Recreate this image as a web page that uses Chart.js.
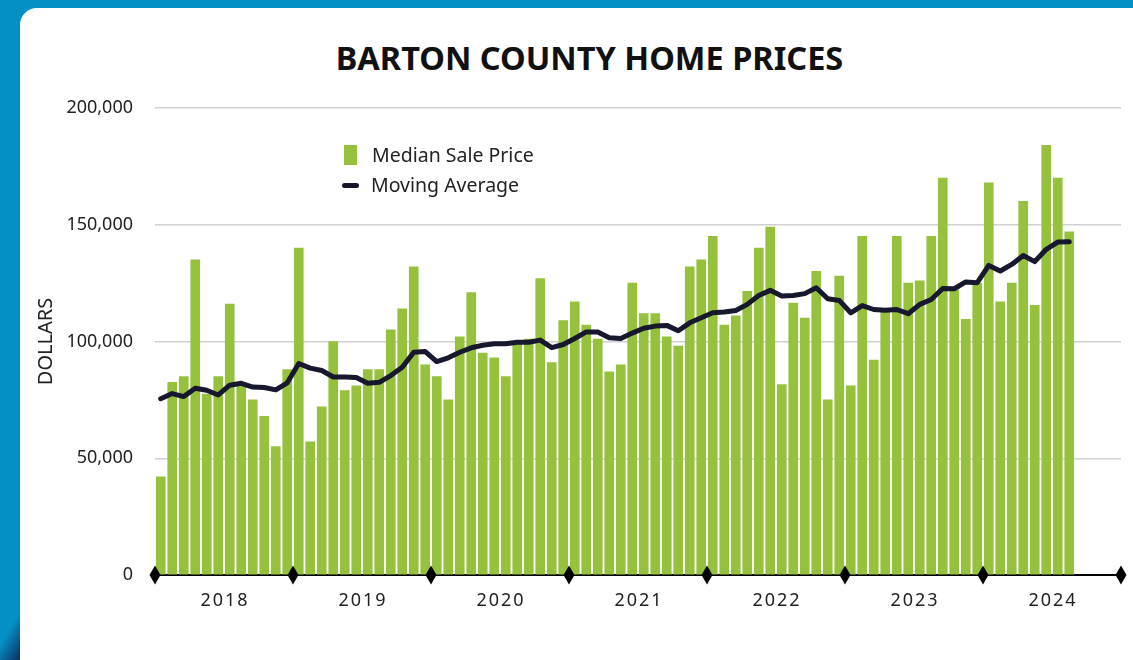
<!DOCTYPE html>
<html>
<head>
<meta charset="utf-8">
<script src="https://cdn.jsdelivr.net/npm/chart.js@4.4.1/dist/chart.umd.min.js"></script>
<style>
  body { margin: 0; width: 1133px; height: 660px; overflow: hidden; background: #0590c5; font-family: "Noto Sans", sans-serif; }
  .swoosh { position: absolute; left: 0; top: 590px; width: 30px; height: 70px; background: linear-gradient(120deg, rgba(5,144,197,0) 45%, #0d3b6e 80%, #0a1f45 100%); }
  .card { position: absolute; left: 20px; top: 8px; width: 1150px; height: 680px; background: #fff; border-radius: 17px; }
  #title { position: absolute; left: 0; width: 1179px; top: 35px; margin: 0; text-align: center; font-size: 32.5px; font-weight: 700; color: #111; }
  #legend { position: absolute; left: 342px; top: 140px; font-size: 19.5px; color: #222; line-height: 30px; }
  #legend .row { display: flex; align-items: center; }
  #legend .box { width: 13px; height: 20px; background: #95c13d; margin: 0 15px 0 2px; }
  #legend .ln { width: 17px; height: 5px; border-radius: 3px; background: #17172e; margin: 0 12px 0 0; }
  canvas { position: absolute; left: 0; top: 0; }
</style>
</head>
<body>
<div class="swoosh"></div>
<div class="card"></div>
<h1 id="title">BARTON COUNTY HOME PRICES</h1>
<canvas id="myChart" width="1133" height="660"></canvas>
<div id="legend">
  <div class="row"><span class="box"></span>Median Sale Price</div>
  <div class="row"><span class="ln"></span>Moving Average</div>
</div>
<script>
const years = ["2018", "2019", "2020", "2021", "2022", "2023", "2024"];

// monthly median sale price, Jan 2018 - Aug 2024
const medianPrice = [
  42000, 82500, 85000, 135000, 77500, 85000, 116000, 81500, 75000, 68000, 55000, 88000,
  140000, 57000, 72000, 100000, 79000, 81000, 88000, 88000, 105000, 114000, 132000, 90000,
  85000, 75000, 102000, 121000, 95000, 93000, 85000, 100000, 101000, 127000, 91000, 109000,
  117000, 107000, 101000, 87000, 90000, 125000, 112000, 112000, 102000, 98000, 132000, 135000,
  145000, 107000, 111000, 121500, 140000, 149000, 81500, 116500, 110000, 130000, 75000, 128000,
  81000, 145000, 92000, 113000, 145000, 125000, 126000, 145000, 170000, 122000, 109500, 125000,
  168000, 117000, 125000, 160000, 115500, 184000, 170000, 147000
];

const movingAverage = [
  75500, 77700, 76400, 80000, 79100, 77100, 81300, 82100, 80500, 80300, 79300, 82300,
  90600, 88600, 87600, 84800, 84800, 84600, 82100, 82500, 85400, 89000, 95400, 95700,
  91400, 93000, 95400, 97300, 98400, 99000, 99000, 99700, 99700, 100600, 97400, 98700,
  101300, 104100, 104100, 101600, 101300, 103600, 105700, 106600, 106900, 104600, 108000, 110200,
  112300, 112600, 113300, 115900, 119700, 121900, 119500, 119700, 120500, 123000, 118300, 117600,
  112300, 115400, 113700, 113400, 113700, 111900, 115900, 118000, 122700, 122600, 125500, 125200,
  132600, 130200, 133000, 136800, 134200, 139500, 142600, 142700
];

const yTicks = [0, 50000, 100000, 150000, 200000];

const months = years.length * 12;
const toPoints = arr => arr.map((v, i) => ({ x: i + 0.5, y: v }));

// diamonds on the x axis at each year boundary + spaced-out year labels
const yearAxis = {
  id: "yearAxis",
  afterDraw(chart) {
    const { ctx, chartArea, scales } = chart;
    const y = chartArea.bottom;
    ctx.save();
    ctx.fillStyle = "#000";
    for (let k = 0; k <= years.length; k++) {
      const x = scales.x.getPixelForValue(k * 12);
      ctx.beginPath();
      ctx.moveTo(x, y - 9.5);
      ctx.lineTo(x + 5.5, y);
      ctx.lineTo(x, y + 9.5);
      ctx.lineTo(x - 5.5, y);
      ctx.closePath();
      ctx.fill();
    }
    ctx.fillStyle = "#222";
    ctx.font = "18px 'Noto Sans'";
    ctx.letterSpacing = "2px";
    ctx.textAlign = "center";
    ctx.textBaseline = "middle";
    years.forEach((yr, k) => {
      const x = scales.x.getPixelForValue(k * 12 + 6);
      ctx.fillText(yr, x + 1, y + 26);
    });
    ctx.restore();
  }
};

const ctx = document.getElementById("myChart").getContext("2d");

const myChart = new Chart(ctx, {
  type: "bar",
  data: {
    datasets: [{
      type: "line",
      label: "Moving Average",
      data: toPoints(movingAverage),
      borderColor: "#17172e",
      borderWidth: 5,
      borderCapStyle: "round",
      borderJoinStyle: "round",
      pointRadius: 0,
      tension: 0,
      order: 0
    }, {
      label: "Median Sale Price",
      data: toPoints(medianPrice),
      backgroundColor: "#95c13d",
      borderWidth: 0,
      barThickness: 9,
      order: 1
    }]
  },
  options: {
    responsive: false,
    animation: false,
    layout: { padding: { left: 25, right: 12, top: 108, bottom: 45 } },
    scales: {
      x: {
        type: "linear",
        min: 0,
        max: months,
        offset: false,
        afterFit: (scale) => { scale.height = 40; },
        ticks: { display: false },
        grid: { display: false, drawTicks: false },
        border: { display: true, color: "#000", width: 2 }
      },
      y: {
        min: 0,
        max: 200000,
        afterFit: (scale) => { scale.width = 130; },
        afterBuildTicks: (scale) => { scale.ticks = yTicks.map(v => ({ value: v })); },
        title: {
          display: true,
          text: "DOLLARS",
          color: "#222",
          padding: { top: 9, bottom: 0 },
          font: { family: "Noto Sans", size: 20 }
        },
        ticks: {
          padding: 22,
          color: "#222",
          font: { family: "Noto Sans", size: 18 },
          callback: (value) => value.toLocaleString("en-US")
        },
        grid: { color: "#d0d0d0", lineWidth: 1.5, drawTicks: false },
        border: { display: false }
      }
    },
    plugins: {
      legend: { display: false },
      tooltip: { enabled: false }
    }
  },
  plugins: [yearAxis]
});
</script>
</body>
</html>
